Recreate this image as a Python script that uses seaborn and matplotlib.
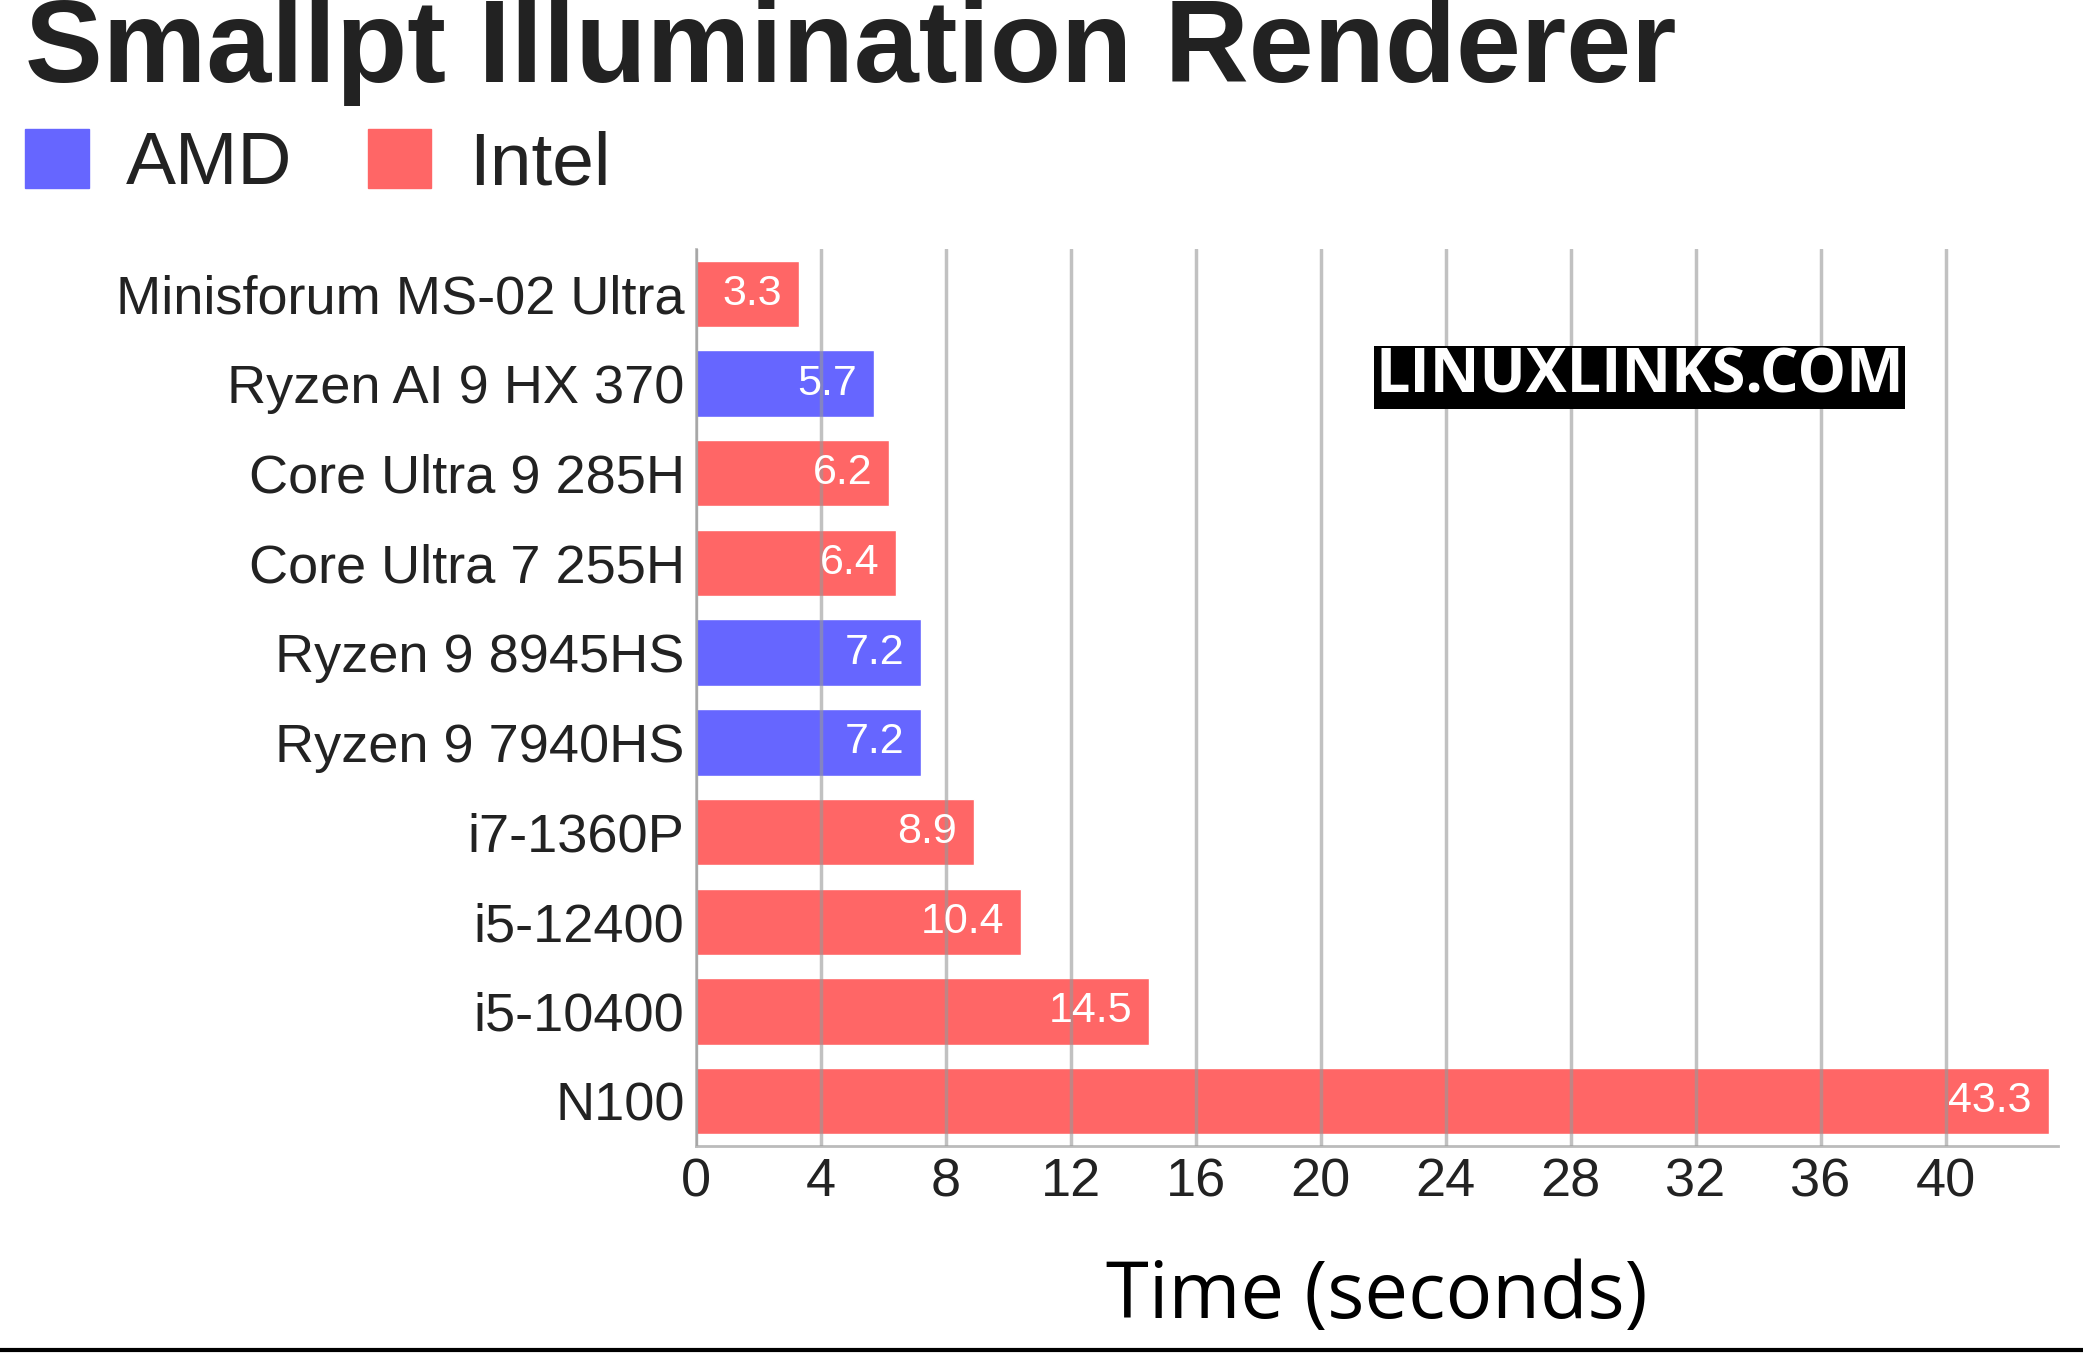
import matplotlib
matplotlib.use("Agg")
import matplotlib.pyplot as plt
import seaborn as sns
import pandas as pd
from matplotlib.patches import Patch

cpus = ["Minisforum MS-02 Ultra", "Ryzen AI 9 HX 370", "Core Ultra 9 285H", "Core Ultra 7 255H",
        "Ryzen 9 8945HS", "Ryzen 9 7940HS", "i7-1360P", "i5-12400", "i5-10400", "N100"]
times = [3.3, 5.7, 6.2, 6.4, 7.2, 7.2, 8.9, 10.4, 14.5, 43.3]
vendor = ["Intel", "AMD", "Intel", "Intel", "AMD", "AMD", "Intel", "Intel", "Intel", "Intel"]
xticks = [0, 4, 8, 12, 16, 20, 24, 28, 32, 36, 40]

sns.set_theme(style="white")
plt.rcParams['font.family'] = ['Liberation Sans', 'DejaVu Sans']

df = pd.DataFrame({"cpu": cpus, "time": times, "vendor": vendor})
fig = plt.figure(figsize=(20.83, 13.53), dpi=100)
ax = fig.add_axes([0.334, 0.153, 0.654, 0.663])
pal = {"AMD": "#6666ff", "Intel": "#ff6666"}
sns.barplot(data=df, x="time", y="cpu", hue="vendor", palette=pal, dodge=False,
            orient="h", width=0.74, ax=ax, legend=False, saturation=1)
for c in ax.containers:
    labels = [f"{v:.1f}" for v in c.datavalues]
    ax.bar_label(c, labels=labels, padding=-12, color="white", fontsize=31)
for lbl in ax.texts:
    lbl.set_ha("right")
ax.set_xlim(0, 43.6)
ax.set_xticks(xticks)
ax.tick_params(axis="both", labelsize=39, colors="#222222", length=0, pad=8)
ax.set_ylabel("")
ax.set_xlabel("Time (seconds)", fontsize=56, family="Open Sans", color="black")
ax.xaxis.set_label_coords(0.5, -0.125)
ax.grid(axis="x", color="#999999", alpha=0.6, linewidth=2.5)
ax.set_axisbelow(False)
for s in ["top", "right"]:
    ax.spines[s].set_visible(False)
for s in ["left", "bottom"]:
    ax.spines[s].set_color("#bbbbbb")
    ax.spines[s].set_linewidth(2)

fig.text(0.012, 0.962, "Smallpt Illumination Renderer", fontsize=84, fontweight="bold",
         color="#222222", va="center")
handles = [Patch(color=pal["AMD"], label="AMD"), Patch(color=pal["Intel"], label="Intel")]
fig.legend(handles=handles, loc="upper left", bbox_to_anchor=(0.012, 0.905), ncol=2, frameon=False,
           fontsize=54, handlelength=0.85, handleheight=0.85, handletextpad=0.5, columnspacing=1.0,
           labelcolor="#222222", borderaxespad=0, borderpad=0)
ax.text(0.693, 0.857, "LINUXLINKS.COM", transform=ax.transAxes, fontsize=44, fontweight="bold",
        family="Open Sans", color="white", ha="center", va="center",
        bbox=dict(facecolor="black", edgecolor="none", pad=1))
fig.add_artist(plt.Line2D([0, 1], [0.002, 0.002], color="black", linewidth=3))
fig.savefig("out.png", dpi=100)
